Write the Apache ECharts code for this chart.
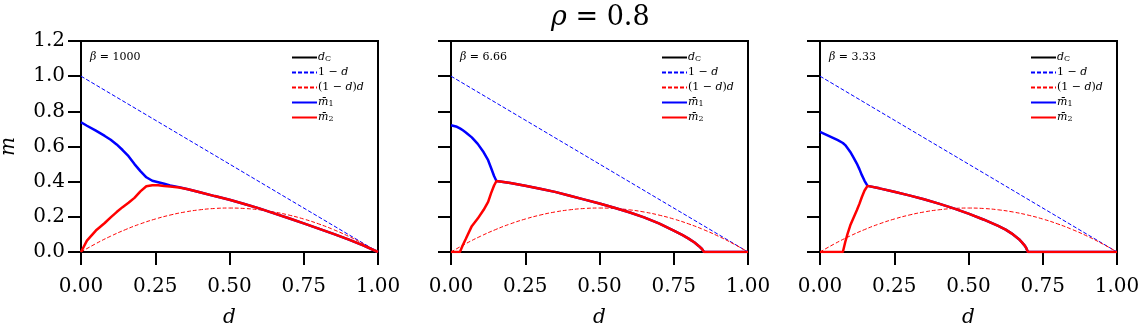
<!DOCTYPE html>
<html>
<head>
<meta charset="utf-8">
<script src="https://cdn.jsdelivr.net/npm/echarts@6/dist/echarts.min.js"></script>
<style>
  html, body { margin: 0; padding: 0; background: #fff; }
  #chart { width: 1140px; height: 325px; }
</style>
</head>
<body>
<div id="chart"></div>
<script>
// reference curves
const dLine = [0, 1];
const oneMinusD = [1, 0];
const dParab = [0, 0.05, 0.1, 0.15, 0.2, 0.25, 0.3, 0.35, 0.4, 0.45, 0.5, 0.55, 0.6, 0.65, 0.7, 0.75, 0.8, 0.85, 0.9, 0.95, 1];
const parab = [0, 0.0475, 0.09, 0.1275, 0.16, 0.1875, 0.21, 0.2275, 0.24, 0.2475, 0.25, 0.2475, 0.24, 0.2275, 0.21, 0.1875, 0.16, 0.1275, 0.09, 0.0475, 0];

// beta = 1000
const dA = [0, 0.02, 0.05, 0.08, 0.10, 0.12, 0.14, 0.16, 0.18, 0.20, 0.22, 0.24, 0.26, 0.28, 0.30, 0.33, 0.36, 0.40, 0.45, 0.50, 0.55, 0.60, 0.65, 0.70, 0.75, 0.80, 0.85, 0.90, 0.95, 1.00];
const m1A = [0.738, 0.718, 0.690, 0.660, 0.638, 0.612, 0.580, 0.545, 0.500, 0.460, 0.425, 0.405, 0.397, 0.388, 0.378, 0.369, 0.357, 0.340, 0.318, 0.297, 0.273, 0.248, 0.220, 0.192, 0.163, 0.133, 0.103, 0.072, 0.038, 0];
const m2A = [0, 0.065, 0.122, 0.165, 0.197, 0.227, 0.255, 0.280, 0.308, 0.345, 0.374, 0.380, 0.379, 0.375, 0.372, 0.367, 0.357, 0.340, 0.318, 0.297, 0.273, 0.248, 0.220, 0.192, 0.163, 0.133, 0.103, 0.072, 0.038, 0];

// beta = 6.66
const dB = [0, 0.02, 0.03, 0.04, 0.05, 0.07, 0.09, 0.11, 0.125, 0.135, 0.145, 0.153, 0.20, 0.25, 0.30, 0.35, 0.40, 0.45, 0.50, 0.55, 0.60, 0.65, 0.70, 0.75, 0.78, 0.80, 0.82, 0.835, 0.845, 0.852, 0.90, 0.95, 1.00];
const m1B = [0.721, 0.712, 0.703, 0.692, 0.680, 0.652, 0.615, 0.567, 0.522, 0.478, 0.432, 0.404, 0.392, 0.377, 0.360, 0.342, 0.320, 0.298, 0.276, 0.252, 0.226, 0.197, 0.163, 0.122, 0.096, 0.076, 0.054, 0.033, 0.017, 0, 0, 0, 0];
const m2B = [0, 0, 0, 0.040, 0.075, 0.147, 0.190, 0.240, 0.285, 0.335, 0.378, 0.404, 0.392, 0.377, 0.360, 0.342, 0.320, 0.298, 0.276, 0.252, 0.226, 0.197, 0.163, 0.122, 0.096, 0.076, 0.054, 0.033, 0.017, 0, 0, 0, 0];

// beta = 3.33
const dC3 = [0, 0.02, 0.04, 0.06, 0.077, 0.085, 0.093, 0.102, 0.113, 0.124, 0.133, 0.141, 0.15, 0.16, 0.20, 0.25, 0.30, 0.35, 0.40, 0.45, 0.50, 0.55, 0.60, 0.625, 0.65, 0.67, 0.68, 0.69, 0.695, 0.70, 0.75, 0.80, 0.90, 1.00];
const m1C = [0.683, 0.668, 0.652, 0.636, 0.620, 0.608, 0.590, 0.569, 0.537, 0.503, 0.470, 0.437, 0.405, 0.376, 0.362, 0.343, 0.322, 0.300, 0.275, 0.248, 0.218, 0.185, 0.148, 0.127, 0.100, 0.073, 0.055, 0.035, 0.020, 0, 0, 0, 0, 0];
const m2C = [0, 0, 0, 0, 0, 0.057, 0.105, 0.152, 0.195, 0.237, 0.275, 0.313, 0.350, 0.376, 0.362, 0.343, 0.322, 0.300, 0.275, 0.248, 0.218, 0.185, 0.148, 0.127, 0.100, 0.073, 0.055, 0.035, 0.020, 0, 0, 0, 0, 0];

const betas = ['1000', '6.66', '3.33'];
const panels = [[dA, m1A, m2A], [dB, m1B, m2B], [dC3, m1C, m2C]];
const gridLefts = [81, 451, 820];

const FONT = 'DejaVu Serif';
const zip = (xs, ys) => xs.map((x, i) => [x, ys[i]]);

const legendNames = ['dC', '1-d', '(1-d)d', 'm1', 'm2'];
const legendText = {
  'dC': '{i|d}{sub|C}',
  '1-d': '1 − {i|d}',
  '(1-d)d': '(1 − {i|d}){i|d}',
  'm1': '{i|m̄}{sub|1}',
  'm2': '{i|m̄}{sub|2}'
};

let grids = [], xAxes = [], yAxes = [], series = [], legends = [], titles = [];

titles.push({
  text: '{i|ρ} = 0.8',
  left: 546, top: -1,
  textStyle: {
    fontFamily: FONT, fontSize: 27, fontWeight: 'normal', color: '#000',
    rich: { i: { fontFamily: FONT, fontStyle: 'italic', fontSize: 27 } }
  }
});

panels.forEach((p, k) => {
  grids.push({ left: gridLefts[k], top: 41, width: 297, height: 211, outerBoundsMode: 'none', containLabel: false, show: true, borderColor: '#000', borderWidth: 2 });
  xAxes.push({
    type: 'value', gridIndex: k, min: 0, max: 1, interval: 0.25,
    name: 'd', nameLocation: 'middle', nameGap: 56,
    nameTextStyle: { fontFamily: FONT, fontStyle: 'italic', fontSize: 20, color: '#000' },
    axisLine: { lineStyle: { color: '#000', width: 2 } },
    axisTick: { length: 13, lineStyle: { color: '#000', width: 2 } },
    axisLabel: { margin: 25, fontFamily: FONT, fontSize: 20, color: '#000', showMinLabel: true, showMaxLabel: true, formatter: v => v.toFixed(2) },
    splitLine: { show: false }
  });
  yAxes.push({
    type: 'value', gridIndex: k, min: 0, max: 1.2, interval: 0.2,
    name: k === 0 ? 'm' : '', nameLocation: 'middle', nameGap: 62,
    nameTextStyle: { fontFamily: FONT, fontStyle: 'italic', fontSize: 20, color: '#000' },
    axisLine: { lineStyle: { color: '#000', width: 2 } },
    axisTick: { length: 13, lineStyle: { color: '#000', width: 2 } },
    axisLabel: { show: k === 0, margin: 16, fontFamily: FONT, fontSize: 20, color: '#000', formatter: v => v.toFixed(1) },
    splitLine: { show: false }
  });
  const base = { type: 'line', xAxisIndex: k, yAxisIndex: k, symbol: 'none', animation: false };
  series.push(Object.assign({}, base, { name: 'dC', data: [], lineStyle: { color: '#000', width: 2.5 }, itemStyle: { color: '#000' } }));
  series.push(Object.assign({}, base, { name: '1-d', data: zip(dLine, oneMinusD), lineStyle: { color: '#0000ff', width: 1, type: [4, 2] }, itemStyle: { color: '#0000ff' } }));
  series.push(Object.assign({}, base, { name: '(1-d)d', data: zip(dParab, parab), smooth: true, lineStyle: { color: '#ff0000', width: 1, type: [4, 2] }, itemStyle: { color: '#ff0000' } }));
  series.push(Object.assign({}, base, { name: 'm1', data: zip(p[0], p[1]), lineStyle: { color: '#0000ff', width: 2.5 }, itemStyle: { color: '#0000ff' } }));
  series.push(Object.assign({}, base, { name: 'm2', data: zip(p[0], p[2]), lineStyle: { color: '#ff0000', width: 2.5 }, itemStyle: { color: '#ff0000' } }));

  legends.push({
    data: legendNames, orient: 'vertical', left: gridLefts[k] + 205, top: 47,
    itemWidth: 25, itemHeight: 12, itemGap: 4, selectedMode: false,
    itemStyle: { opacity: 0 },
    formatter: n => legendText[n],
    textStyle: {
      fontFamily: FONT, fontSize: 11, color: '#000', padding: [0, 0, 0, -4],
      rich: {
        i: { fontFamily: FONT, fontStyle: 'italic', fontSize: 11 },
        sub: { fontFamily: FONT, fontSize: 8, padding: [3, 0, 0, 0] }
      }
    }
  });
  titles.push({
    text: '{i|β} = ' + betas[k],
    left: gridLefts[k] + 4, top: 47,
    textStyle: {
      fontFamily: FONT, fontSize: 11, fontWeight: 'normal', color: '#000',
      rich: { i: { fontFamily: FONT, fontStyle: 'italic', fontSize: 11 } }
    }
  });
});

const chart = echarts.init(document.getElementById('chart'), null, { renderer: 'canvas' });
chart.setOption({
  animation: false,
  title: titles,
  legend: legends,
  grid: grids,
  xAxis: xAxes,
  yAxis: yAxes,
  series: series
});
</script>
</body>
</html>
